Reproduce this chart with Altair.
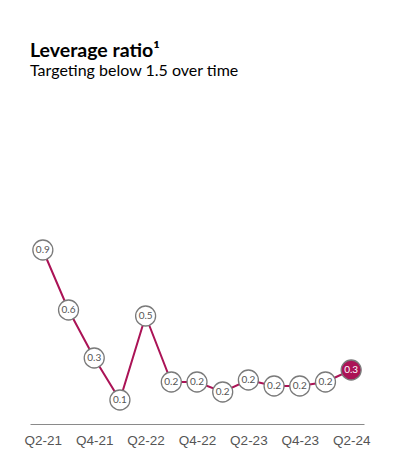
import altair as alt
import pandas as pd

quarters = ["Q2-21", "Q3-21", "Q4-21", "Q1-22", "Q2-22", "Q3-22", "Q4-22",
            "Q1-23", "Q2-23", "Q3-23", "Q4-23", "Q1-24", "Q2-24"]
leverage = [0.87, 0.57, 0.33, 0.12, 0.54, 0.21, 0.21, 0.16, 0.22, 0.19, 0.19, 0.21, 0.27]
tick_labels = ["Q2-21", "Q4-21", "Q2-22", "Q4-22", "Q2-23", "Q4-23", "Q2-24"]

df = pd.DataFrame({"q": quarters, "v": leverage})
df["label"] = [f"{v:.1f}" for v in leverage]
df["last"] = [i == len(quarters) - 1 for i in range(len(quarters))]

MAIN = "#AB1356"

x = alt.X("q:N", sort=quarters, scale=alt.Scale(type="point", padding=0.5),
          axis=alt.Axis(values=tick_labels, title=None, labelAngle=0, ticks=False,
                        domainColor="#8a8a8a", domainWidth=1, labelColor="#555555",
                        labelFont="Liberation Sans", labelFontSize=13.5, labelPadding=9,
                        grid=False))
y = alt.Y("v:Q", scale=alt.Scale(domain=[0, 1.5]), axis=None)

base = alt.Chart(df).encode(x=x, y=y)

line = base.mark_line(color=MAIN, strokeWidth=2)
pts = base.mark_point(filled=True, size=400, strokeWidth=1.3, stroke="#7a7a7a", opacity=1).encode(
    fill=alt.condition("datum.last", alt.value(MAIN), alt.value("white"))
)
txt = base.mark_text(font="Lato", fontSize=10, baseline="middle", align="center").encode(
    text="label:N",
    color=alt.condition("datum.last", alt.value("white"), alt.value("#555555"))
)

chart = (line + pts + txt).properties(
    width=334, height=300,
    title=alt.TitleParams(
        text="Leverage ratio¹", subtitle="Targeting below 1.5 over time",
        anchor="start", font="Lato", fontSize=19.5, fontWeight="bold", color="#000000",
        subtitleFont="Lato", subtitleFontSize=16, subtitleColor="#000000",
        subtitlePadding=2, offset=44, frame="group"
    ),
    padding={"left": 16, "top": 32, "right": 10, "bottom": 10}
).configure_view(stroke=None)

chart.save("out.html", embed_options={"renderer": "svg", "actions": False})
